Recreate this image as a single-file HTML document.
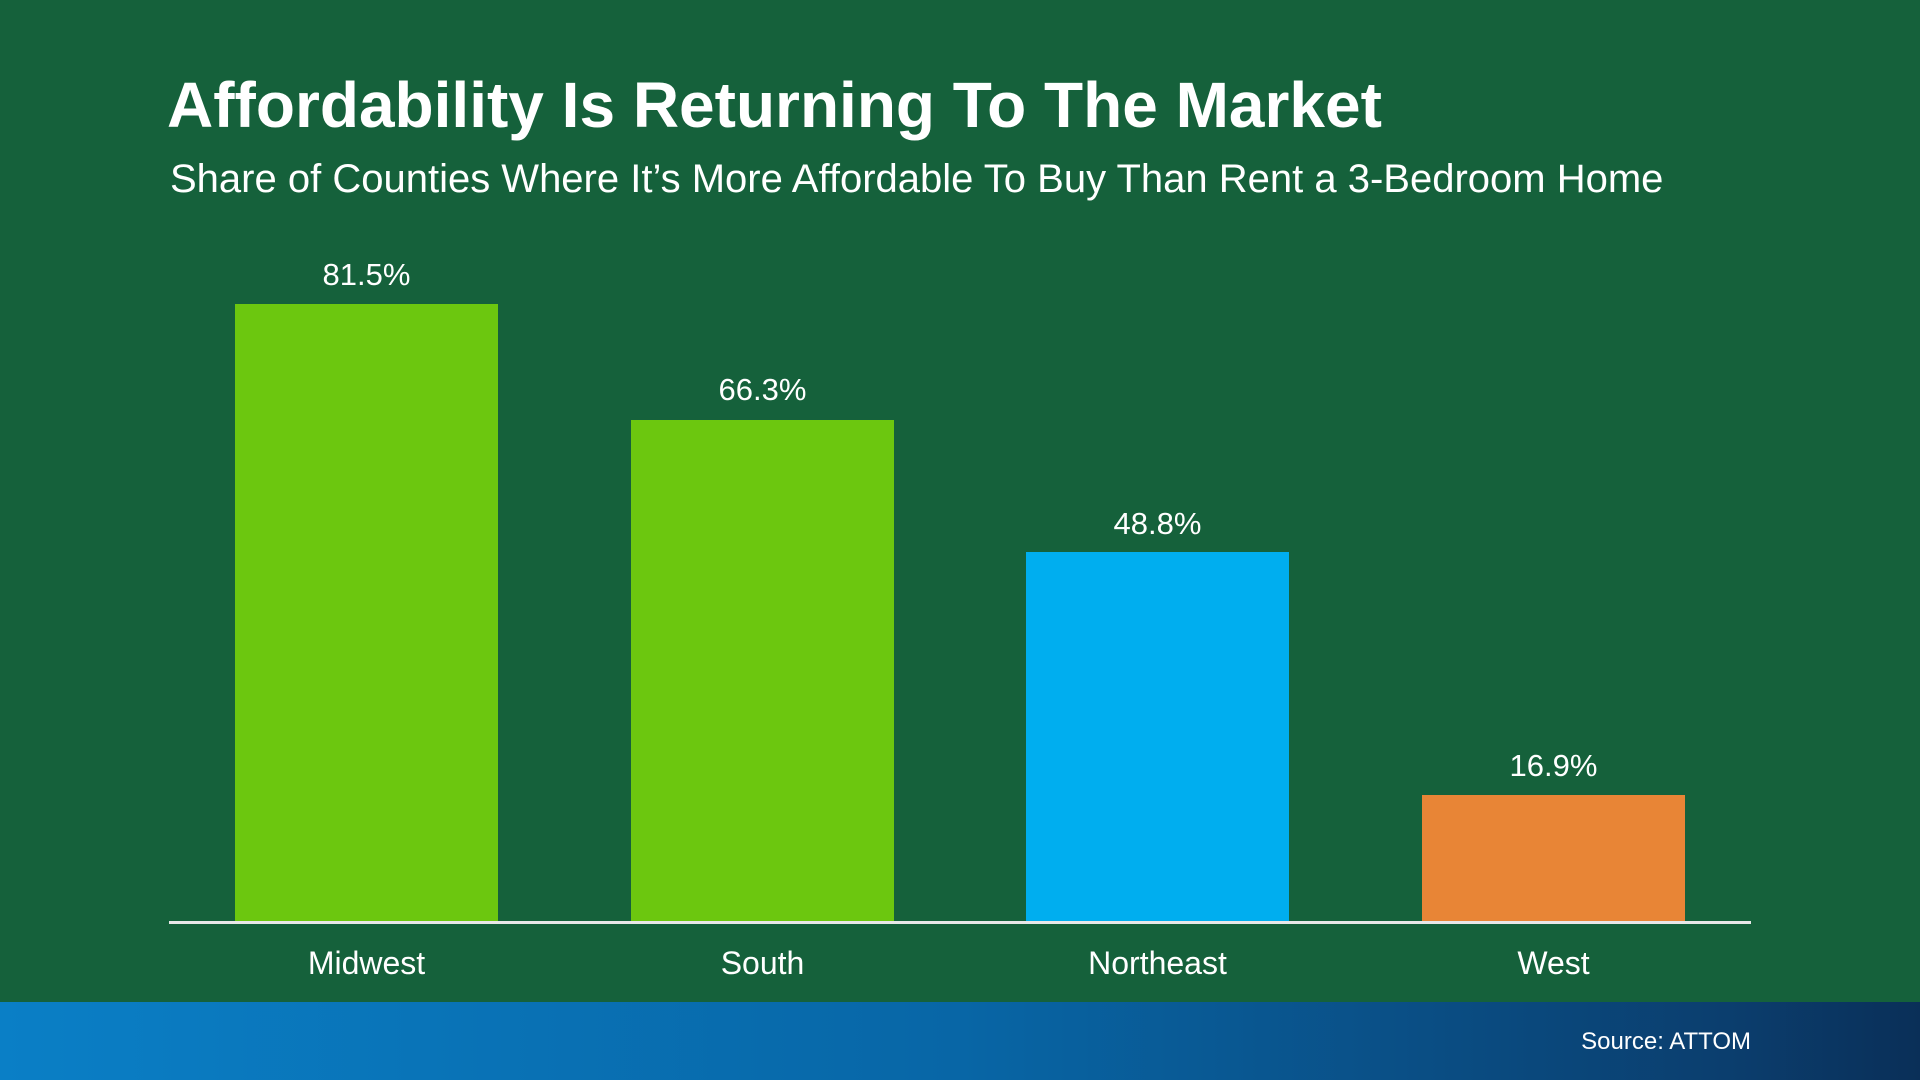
<!DOCTYPE html>
<html><head><meta charset="utf-8"><style>
body{margin:0;width:1920px;height:1080px;background:#15613b;position:relative;overflow:hidden;font-family:"Liberation Sans",sans-serif;color:#fff}
div{position:absolute}
.t{left:167px;top:68px;font-size:64px;font-weight:bold;white-space:nowrap}
.s{left:170px;top:157px;font-size:40px;white-space:nowrap}
.b{width:263px}
.v,.c{width:263px;text-align:center;font-size:31px}
.c{font-size:32px}
.f{left:0;top:1002px;width:1920px;height:78px;background:linear-gradient(90deg,#0a7fc6,#0866a6 50%,#0b3e6e 90%,#0a2f58)}
</style></head><body>
<div class="t">Affordability Is Returning To The Market</div>
<div class="s">Share of Counties Where It’s More Affordable To Buy Than Rent a 3-Bedroom Home</div>
<div class="b" style="left:235px;top:304px;height:618px;background:#6cc70f"></div>
<div class="b" style="left:631px;top:420px;height:502px;background:#6cc70f"></div>
<div class="b" style="left:1026px;top:552px;height:370px;background:#00aeef"></div>
<div class="b" style="left:1422px;top:795px;height:127px;background:#e88536"></div>
<div style="left:169px;top:921px;width:1582px;height:3px;background:#e8e8e8"></div>
<div class="v" style="left:235px;top:257px">81.5%</div>
<div class="v" style="left:631px;top:372px">66.3%</div>
<div class="v" style="left:1026px;top:506px">48.8%</div>
<div class="v" style="left:1422px;top:748px">16.9%</div>
<div class="c" style="left:235px;top:945px">Midwest</div>
<div class="c" style="left:631px;top:945px">South</div>
<div class="c" style="left:1026px;top:945px">Northeast</div>
<div class="c" style="left:1422px;top:945px">West</div>
<div class="f"></div>
<div style="right:169px;top:1028px;font-size:24px">Source: ATTOM</div>
</body></html>
